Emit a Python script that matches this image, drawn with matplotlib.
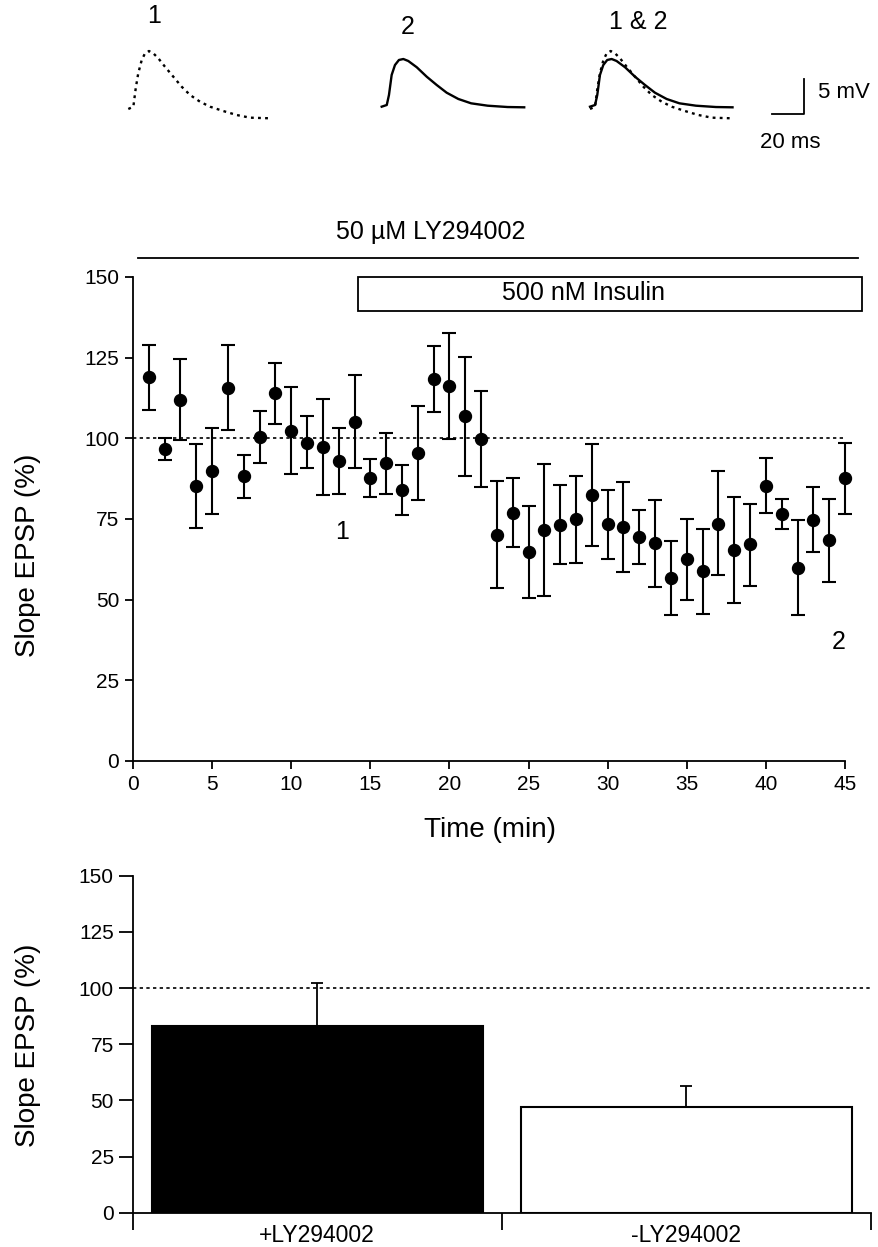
import numpy as np
import matplotlib
matplotlib.use("Agg")
import matplotlib.pyplot as plt
from matplotlib.patches import Rectangle

plt.rcParams['font.family'] = ['Liberation Sans', 'DejaVu Sans']

# time course (min) and EPSP slope (% of baseline)
time_min = np.arange(1, 46)
slope = [119, 96.7, 112, 85.3, 89.8, 115.6, 88.2, 100.3, 113.9, 102.4,
         98.6, 97.2, 93, 105.2, 87.8, 92.3, 84, 95.5, 118.5, 116.2,
         106.9, 99.8, 70, 76.9, 64.9, 71.5, 73.1, 74.9, 82.4, 73.4,
         72.6, 69.5, 67.5, 56.6, 62.5, 59, 73.6, 65.4, 67.1, 85.3,
         76.6, 59.9, 74.7, 68.5, 87.7]
err_hi = [129, 100.1, 124.7, 98.1, 103.1, 128.8, 94.8, 108.5, 123.2, 115.8,
          106.8, 112.1, 103.1, 119.6, 93.5, 101.6, 91.7, 109.9, 128.7, 132.6,
          125.1, 114.7, 86.8, 87.8, 79.1, 91.9, 85.5, 88.4, 98.2, 84.1,
          86.5, 77.9, 80.9, 68.3, 75, 72, 90, 81.9, 79.8, 94,
          81.1, 74.6, 84.8, 81.3, 98.6]
err_lo = [108.8, 93.2, 99.5, 72.3, 76.6, 102.7, 81.6, 92.4, 104.5, 89,
          90.8, 82.4, 82.8, 90.9, 81.7, 82.8, 76.2, 80.9, 108.2, 99.9,
          88.4, 85, 53.6, 66.3, 50.5, 51.1, 61, 61.4, 66.7, 62.5,
          58.7, 61.2, 54, 45.2, 50, 45.5, 57.6, 49.1, 54.3, 76.8,
          71.8, 45.4, 64.9, 55.4, 76.6]

# summary bars
groups = ['+LY294002', '-LY294002']
bar_mean = [83.1, 47.0]
bar_sem = [19.0, 9.2]

# example EPSP traces (ms, mV)
t1_ms = [0, 3.2, 4.7, 6.3, 8.5, 10.6, 13.1, 15.8, 19.0, 23.2, 28.5, 33.8,
         39.1, 45.4, 51.7, 60.1, 68.6, 77.0, 89.7]
v1_mv = [1.33, 1.66, 4.29, 6.43, 8.33, 9.29, 9.61, 9.29, 8.57, 7.37, 5.94, 4.51,
         3.33, 2.37, 1.66, 1.04, 0.47, 0.09, 0.0]
t2_ms = [0, 3.2, 4.6, 6.3, 8.4, 10.9, 13.7, 16.8, 22.2, 28.5, 34.8, 41.1,
         48.5, 56.6, 67.1, 79.7, 90.2]
v2_mv = [1.66, 1.90, 3.33, 6.19, 7.61, 8.33, 8.47, 8.19, 7.29, 5.94, 4.76, 3.66,
         2.76, 2.14, 1.80, 1.61, 1.57]

fig = plt.figure(figsize=(8.79, 12.47), dpi=100)
W, H = 879, 1247

# ---- traces ----
px_ms, px_mv = 1.58, 7.0
axt = fig.add_axes([0, 1 - 150 / H, 1, 150 / H])
axt.set_xlim(0, W / px_ms)
axt.set_ylim(-(150 - 118.3) / px_mv, 118.3 / px_mv)
axt.axis('off')
dot = (0, (1.2, 1.8))
on1, on2, on3 = 128.3 / px_ms, 381.7 / px_ms, 590 / px_ms
axt.plot(np.array(t1_ms) + on1, v1_mv, color='black', lw=1.7, ls=dot)
axt.plot(np.array(t2_ms) + on2, v2_mv, color='black', lw=1.7)
axt.plot(np.array(t1_ms) + on3, v1_mv, color='black', lw=1.7, ls=dot)
axt.plot(np.array(t2_ms) + on3, v2_mv, color='black', lw=1.7)
axt.text(154 / px_ms, (118.3 - 16) / px_mv, '1', fontsize=18, ha='center', va='center')
axt.text(408 / px_ms, (118.3 - 27) / px_mv, '2', fontsize=18, ha='center', va='center')
axt.text(638 / px_ms, (118.3 - 22) / px_mv, '1 & 2', fontsize=18, ha='center', va='center')
# scale bar 20 ms / 5 mV
sx, sy = 772 / px_ms, (118.3 - 114) / px_mv
axt.plot([sx, sx + 20, sx + 20], [sy, sy, sy + 5], color='black', lw=1.3)
axt.text(818 / px_ms, (118.3 - 93) / px_mv, '5 mV', fontsize=16, ha='left', va='center')
axt.text(790 / px_ms, (118.3 - 142) / px_mv, '20 ms', fontsize=16, ha='center', va='center')

# ---- time course ----
ax = fig.add_axes([133 / W, (H - 761) / H, 712 / W, 484 / H])
yerr = [np.array(slope) - np.array(err_lo), np.array(err_hi) - np.array(slope)]
ax.errorbar(time_min, slope, yerr=yerr, fmt='o', color='black', ms=8.6,
            elinewidth=1.5, capsize=4.7, capthick=1.5, clip_on=False, zorder=3)
ax.axhline(100, color='black', lw=1.2, ls=(0, (2, 2)))
ax.set_xlim(0, 45)
ax.set_ylim(0, 150)
ax.set_xticks(range(0, 46, 5))
ax.set_yticks(range(0, 151, 25))
for s in ['top', 'right']:
    ax.spines[s].set_visible(False)
for s in ['left', 'bottom']:
    ax.spines[s].set_linewidth(1.3)
ax.tick_params(direction='out', length=6, width=1.3, labelsize=15, pad=4)
ax.set_xlabel('Time (min)', fontsize=20, va='center')
ax.xaxis.set_label_coords(0.501, -0.143)
ax.set_ylabel('Slope EPSP (%)', fontsize=20, va='center')
ax.yaxis.set_label_coords(-0.147, 0.426)
ax.plot([0.3, 45.8], [155.9, 155.9], color='black', lw=1.3, clip_on=False)
ax.text(18.8, 163.8, '50 \u00b5M LY294002', fontsize=18, ha='center', va='center')
ax.add_patch(Rectangle((14.2, 139.6), 31.9, 10.4, fill=False, edgecolor='black',
                       lw=1.3, clip_on=False))
ax.text(28.5, 145.0, '500 nM Insulin', fontsize=18, ha='center', va='center')
ax.text(13.2, 71.0, '1', fontsize=18, ha='center', va='center')
ax.text(44.6, 37.0, '2', fontsize=18, ha='center', va='center')

# ---- bar summary ----
axb = fig.add_axes([132.6 / W, (H - 1212.7) / H, 738.4 / W, 337 / H])
xpos = np.arange(len(groups))
axb.bar(xpos, bar_mean, width=0.896, color=['black', 'white'], edgecolor='black',
        lw=1.5, zorder=2)
axb.errorbar(xpos, bar_mean, yerr=[[0, 0], bar_sem], fmt='none', ecolor='black',
             elinewidth=1.3, capsize=4.5, capthick=1.3, zorder=1)
axb.axhline(100, color='black', lw=1.2, ls=(0, (2, 2)), zorder=0)
axb.set_xlim(-0.5, 1.5)
axb.set_ylim(0, 150)
axb.set_yticks(range(0, 151, 25))
axb.set_xticks([-0.5, 0.5, 1.5])
axb.set_xticklabels([])
axb.set_xticks(xpos, minor=True)
axb.set_xticklabels(groups, minor=True)
for s in ['top', 'right']:
    axb.spines[s].set_visible(False)
for s in ['left', 'bottom']:
    axb.spines[s].set_linewidth(1.3)
axb.tick_params(axis='y', direction='out', length=10, width=1.3, labelsize=15)
axb.tick_params(axis='x', which='major', direction='out', length=12, width=1.3)
axb.tick_params(axis='x', which='minor', length=0, labelsize=16.5, pad=8)
axb.set_ylabel('Slope EPSP (%)', fontsize=20, va='center')
axb.yaxis.set_label_coords(-0.1417, 0.498)

fig.savefig('out.png', dpi=100)
